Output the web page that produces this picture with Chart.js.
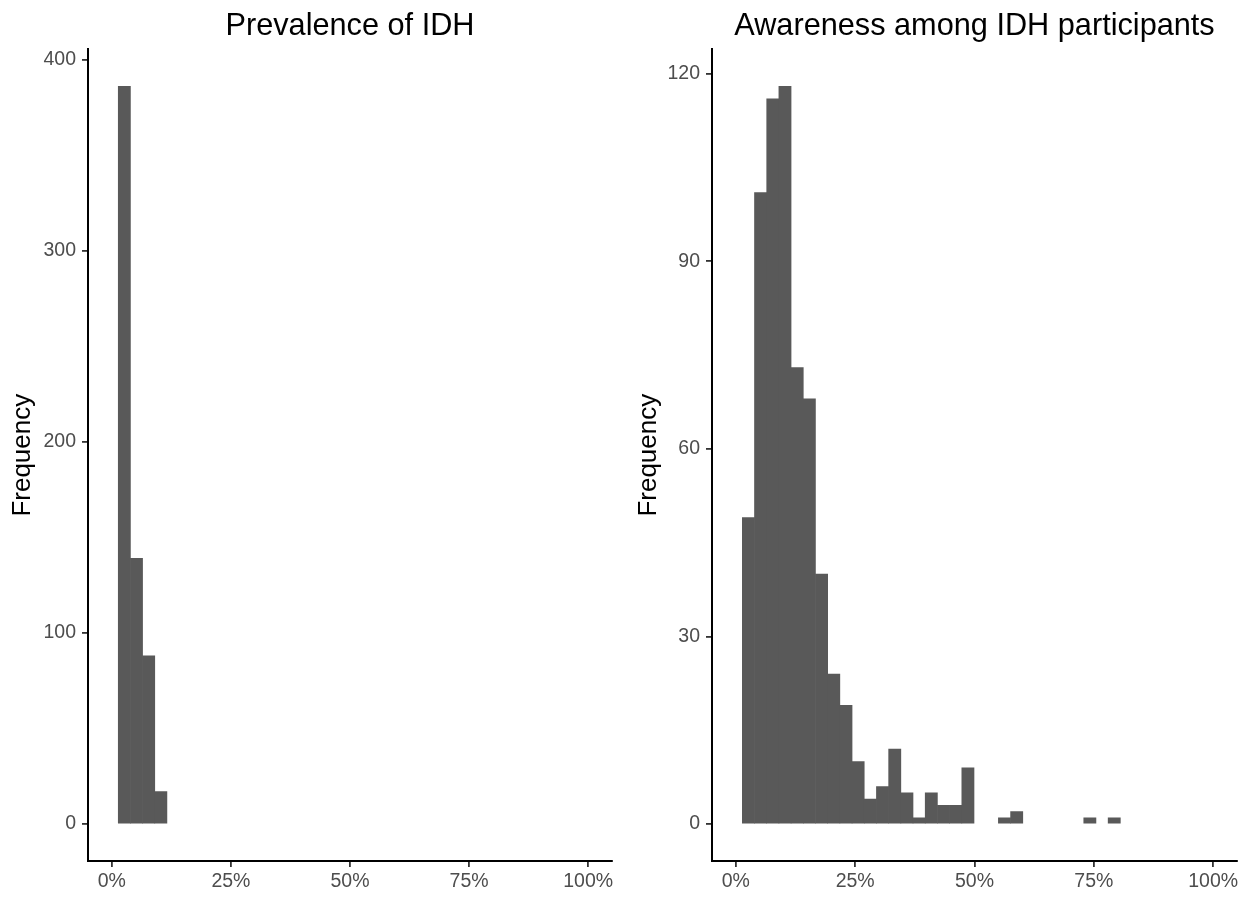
<!DOCTYPE html>
<html>
<head>
<meta charset="utf-8">
<script src="https://cdn.jsdelivr.net/npm/chart.js@4/dist/chart.umd.min.js"></script>
<style>
  html, body { margin: 0; padding: 0; background: #fff; }
  .panel { position: absolute; top: 0; width: 626px; height: 897px; }
  #leftBox { left: 0; }
  #rightBox { left: 626px; }
</style>
</head>
<body>
<div class="panel" id="leftBox"><canvas id="prevalence"></canvas></div>
<div class="panel" id="rightBox"><canvas id="awareness"></canvas></div>
<script>
// bin midpoints (percent)
const prevalenceBins = [2.63, 5.18, 7.74, 10.29];
const prevalenceCounts = [386, 139, 88, 17];

const awarenessBins = [
  2.63, 5.18, 7.74, 10.29, 12.85, 15.40, 17.96, 20.51, 23.07, 25.62,
  28.18, 30.73, 33.29, 35.84, 38.40, 40.95, 43.51, 46.06, 48.62, 51.17,
  53.73, 56.28, 58.84, 61.39, 63.95, 66.50, 69.06, 71.61, 74.17, 76.72, 79.28
];
const awarenessCounts = [
  49, 101, 116, 118, 73, 68, 40, 24, 19, 10,
  4, 6, 12, 5, 1, 5, 3, 3, 9, 0,
  0, 1, 2, 0, 0, 0, 0, 0, 1, 0, 1
];

const xTicks = [0, 25, 50, 75, 100];
const prevalenceYTicks = [0, 100, 200, 300, 400];
const awarenessYTicks = [0, 30, 60, 90, 120];

const FONT = "'Liberation Sans', Arial, sans-serif";

function makeHistogram(canvasId, title, bins, counts, yTicks, yRange, axisWidth, padRight) {
    const canvas = document.getElementById(canvasId);
    return new Chart(canvas, {
        type: 'bar',
        data: {
            datasets: [{
                // empty bins are left out of the drawing (null), like ggplot
                data: bins.map((b, i) => ({ x: b, y: counts[i] === 0 ? null : counts[i] })),
                backgroundColor: '#595959',
                borderWidth: 0,
                barPercentage: 1,
                categoryPercentage: 1
            }]
        },
        options: {
            responsive: true,
            maintainAspectRatio: false,
            animation: false,
            layout: { padding: { left: 0, right: padRight, top: 0, bottom: 0 } },
            plugins: {
                legend: { display: false },
                tooltip: { enabled: false },
                title: {
                    display: true,
                    text: title,
                    fullSize: false,
                    color: '#000',
                    font: { family: FONT, size: 30.7, weight: 'normal', lineHeight: 1.2 },
                    padding: { top: 8, bottom: 4.5 }
                }
            },
            scales: {
                x: {
                    type: 'linear',
                    min: -5,
                    max: 105,
                    offset: false,
                    afterBuildTicks: s => { s.ticks = xTicks.map(v => ({ value: v })); },
                    afterFit: s => { s.height = 36; },
                    grid: { offset: false, drawOnChartArea: false, drawTicks: true, tickLength: 6, color: '#333', lineWidth: 1.8 },
                    border: { display: true, color: '#000', width: 2 },
                    ticks: {
                        color: '#4d4d4d',
                        padding: 3,
                        maxRotation: 0,
                        font: { family: FONT, size: 19.5 },
                        callback: v => v + '%'
                    }
                },
                y: {
                    min: yRange[0],
                    max: yRange[1],
                    afterBuildTicks: s => { s.ticks = yTicks.map(v => ({ value: v })); },
                    afterFit: s => { s.width = axisWidth; },
                    grid: { drawOnChartArea: false, drawTicks: true, tickLength: 6, color: '#333', lineWidth: 1.8 },
                    border: { display: true, color: '#000', width: 2 },
                    title: {
                        display: true,
                        text: 'Frequency',
                        color: '#000',
                        font: { family: FONT, size: 26, lineHeight: 1.2 },
                        padding: { top: 7, bottom: 0 }
                    },
                    ticks: {
                        color: '#4d4d4d',
                        padding: 6,
                        font: { family: FONT, size: 19.5 }
                    }
                }
            }
        }
    });
}

makeHistogram('prevalence', 'Prevalence of IDH', prevalenceBins, prevalenceCounts,
    prevalenceYTicks, [-19.3, 405.3], 88, 14);
makeHistogram('awareness', 'Awareness among IDH participants', awarenessBins, awarenessCounts,
    awarenessYTicks, [-5.9, 123.9], 86, 15);
</script>
</body>
</html>
